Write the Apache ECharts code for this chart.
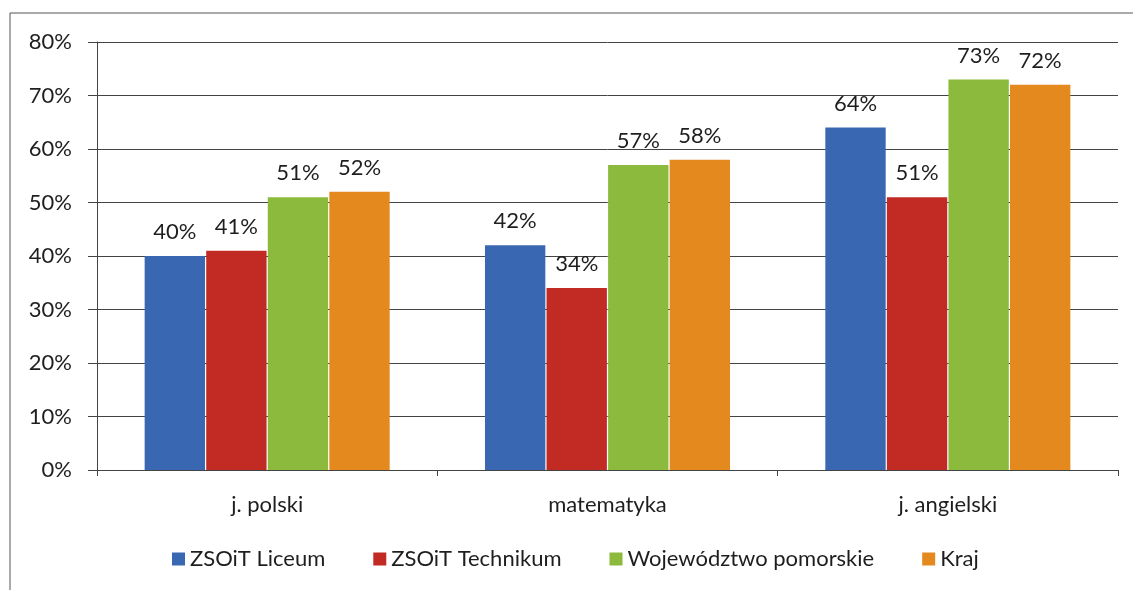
<!DOCTYPE html>
<html>
<head>
<meta charset="utf-8">
<script src="https://cdn.jsdelivr.net/npm/echarts@6/dist/echarts.min.js"></script>
<style>
  html, body { margin: 0; padding: 0; background: #fff; }
  #chart { width: 1133px; height: 590px; }
</style>
</head>
<body>
<div id="chart"></div>
<script>
// Subjects on the x axis
const categories = ['j. polski', 'matematyka', 'j. angielski'];

// Average results (%) per group
const seriesNames = ['ZSOiT Liceum', 'ZSOiT Technikum', 'Województwo pomorskie', 'Kraj'];
const liceum = [40, 42, 64];
const technikum = [41, 34, 51];
const wojewodztwo = [51, 57, 73];
const kraj = [52, 58, 72];

// Y axis tick values
const yTicks = [0, 10, 20, 30, 40, 50, 60, 70, 80];

const colors = ['#3a67b2', '#c12b24', '#8bba3d', '#e3891e'];
const FONT = 'Lato, "Open Sans", sans-serif';
const TEXT = '#1e1e1e';

const chart = echarts.init(document.getElementById('chart'), null, { renderer: 'canvas' });

function barSeries(name, data, color) {
  return {
    name: name,
    type: 'bar',
    data: data,
    barGap: '2%',
    barCategoryGap: '28%',
    itemStyle: { color: color },
    label: {
      show: true,
      position: 'top',
      distance: 13,
      formatter: '{c}%',
      color: TEXT,
      fontFamily: FONT,
      fontSize: 22
    }
  };
}

chart.setOption({
  backgroundColor: '#fff',
  animation: false,
  graphic: [{
    type: 'rect',
    shape: { x: 10, y: 13, width: 1140, height: 600 },
    style: { fill: 'none', stroke: '#555', lineWidth: 1 },
    silent: true
  }],
  grid: { left: 97, right: 15, top: 42, bottom: 120, containLabel: false },
  legend: {
    data: seriesNames,
    left: 172,
    top: 548,
    padding: 0,
    itemWidth: 13,
    itemHeight: 13,
    itemGap: 48,
    icon: 'rect',
    textStyle: { fontFamily: FONT, fontSize: 22, color: TEXT }
  },
  xAxis: {
    type: 'category',
    data: categories,
    axisLine: { lineStyle: { color: '#444', width: 1 } },
    axisTick: { show: true, length: 6, lineStyle: { color: '#444' } },
    axisLabel: { fontFamily: FONT, fontSize: 22, color: TEXT, margin: 24 }
  },
  yAxis: {
    type: 'value',
    min: yTicks[0],
    max: yTicks[yTicks.length - 1],
    interval: 10,
    axisLine: { show: true, lineStyle: { color: '#444', width: 1 } },
    axisTick: { show: true, length: 9, lineStyle: { color: '#444' } },
    splitLine: { lineStyle: { color: '#444', width: 1 } },
    axisLabel: { formatter: '{value}%', fontFamily: FONT, fontSize: 22, color: TEXT, margin: 25 }
  },
  series: [
    barSeries(seriesNames[0], liceum, colors[0]),
    barSeries(seriesNames[1], technikum, colors[1]),
    barSeries(seriesNames[2], wojewodztwo, colors[2]),
    barSeries(seriesNames[3], kraj, colors[3])
  ]
});
</script>
</body>
</html>
